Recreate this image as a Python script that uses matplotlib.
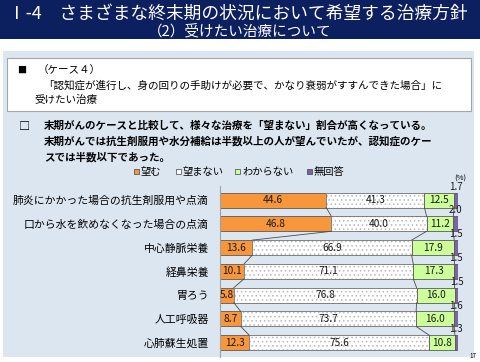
import matplotlib
matplotlib.use("Agg")
import matplotlib.pyplot as plt
from matplotlib.patches import Rectangle
import numpy as np

plt.rcParams['font.family'] = ['Noto Sans CJK JP', 'DejaVu Sans']
plt.rcParams['hatch.linewidth'] = 0.6

#%% data
categories = ['肺炎にかかった場合の抗生剤服用や点滴',
              '口から水を飲めなくなった場合の点滴',
              '中心静脈栄養',
              '経鼻栄養',
              '胃ろう',
              '人工呼吸器',
              '心肺蘇生処置']
series_names = ['望む', '望まない', 'わからない', '無回答']
nozomu = [44.6, 46.8, 13.6, 10.1, 5.8, 8.7, 12.3]
nozomanai = [41.3, 40.0, 66.9, 71.1, 76.8, 73.7, 75.6]
wakaranai = [12.5, 11.2, 17.9, 17.3, 16.0, 16.0, 10.8]
mukaitou = [1.7, 2.0, 1.5, 1.5, 1.5, 1.6, 1.3]

colors = ['#f7963a', '#ffffff', '#ccff99', '#7d62a6']
navy = '#0c1f5e'
panel = '#dce6f1'

W, H = 480, 362
fig = plt.figure(figsize=(4.8, 3.62), dpi=100)

def px(x, y):
    # pixel coords (from top-left) -> figure fraction
    return x / W, 1 - y / H

def rect(x0, y0, x1, y1, **kw):
    fx, fy = px(x0, y1)
    fig.patches.append(Rectangle((fx, fy), (x1 - x0) / W, (y1 - y0) / H,
                                 transform=fig.transFigure, **kw))

def txt(x, y, s, **kw):
    fx, fy = px(x, y)
    fig.text(fx, fy, s, **kw)

#%% header and panels
rect(0, 0, 480, 39, facecolor=navy, edgecolor='none')
txt(8, 14, 'Ⅰ-4　さまざまな終末期の状況において希望する治療方針', color='white',
    fontsize=12.8, va='center', ha='left')
txt(240, 31, '（2）受けたい治療について', color='white', fontsize=10.5,
    va='center', ha='center')
rect(3, 51, 474, 357, facecolor=panel, edgecolor='none')
rect(7, 58, 471, 111, facecolor='white', edgecolor='#a6a6a6', linewidth=0.8)

txt(17, 70, '■', fontsize=6.5, va='center', ha='left')
txt(38, 70, '（ケース４）', fontsize=7.6, va='center', ha='left')
txt(43, 85, '「認知症が進行し、身の回りの手助けが必要で、かなり衰弱がすすんできた場合」に',
    fontsize=7.6, va='center', ha='left')
txt(34, 100, '受けたい治療', fontsize=7.6, va='center', ha='left')

txt(19, 126, '□', fontsize=8, va='center', ha='left', fontweight='bold')
txt(44, 126, '末期がんのケースと比較して、様々な治療を「望まない」割合が高くなっている。',
    fontsize=7.6, va='center', ha='left', fontweight='bold')
txt(44, 141, '末期がんでは抗生剤服用や水分補給は半数以上の人が望んでいたが、認知症のケー',
    fontsize=7.6, va='center', ha='left', fontweight='bold')
txt(44, 157, 'スでは半数以下であった。',
    fontsize=7.6, va='center', ha='left', fontweight='bold')

# legend drawn by hand: small squares + text
leg_x = [134, 176, 235, 307]
for i, name in enumerate(series_names):
    rect(leg_x[i], 169, leg_x[i] + 5, 174, facecolor=colors[i],
         edgecolor='#404040', linewidth=0.5)
    txt(leg_x[i] + 7, 172, name, fontsize=7.4, va='center', ha='left')
txt(460, 179, '(%)', fontsize=5.5, va='center', ha='center')
txt(473, 356, '17', fontsize=4.5, va='center', ha='center')

#%% chart
l, b = px(220, 357)
r, t = px(458, 186)
ax = fig.add_axes([l, b, r - l, t - b])
ax.set_zorder(5)
ax.set_facecolor('none')

data = np.array([nozomu, nozomanai, wakaranai, mukaitou])
y = np.arange(len(categories))
h = 0.63
left = np.zeros(len(categories))
for k in range(4):
    if k == 1:
        ax.barh(y, data[k], h, left=left, color='white', edgecolor='#b8b8b8',
                hatch='....', linewidth=0)
        ax.barh(y, data[k], h, left=left, fill=False, edgecolor='#6e6e6e', linewidth=0.6)
    else:
        ax.barh(y, data[k], h, left=left, color=colors[k], edgecolor='#5a5a5a',
                linewidth=0.6)
    for i in range(len(categories)):
        v = data[k][i]
        if k < 3:
            ax.text(left[i] + v / 2, y[i], '{:.1f}'.format(v), ha='center',
                    va='center', fontsize=7.3, color='#1a1a1a')
        else:
            ax.text(left[i] + v / 2, y[i] - 0.56, '{:.1f}'.format(v), ha='center',
                    va='center', fontsize=7, color='#1a1a1a')
    left = left + data[k]

# series lines between bars
cum = np.cumsum(data, axis=0)
for k in range(3):
    for i in range(len(categories) - 1):
        ax.plot([cum[k][i], cum[k][i + 1]], [y[i] + h / 2, y[i + 1] - h / 2],
                color='#4a4a4a', linewidth=0.6)

ax.set_xlim(0, 100)
ax.set_ylim(6.6, -0.59)
ax.set_yticks(y)
ax.set_yticklabels(categories, fontsize=7.8)
ax.set_xticks([])
ax.tick_params(axis='y', length=0, pad=8)
for s in ['top', 'right', 'bottom']:
    ax.spines[s].set_visible(False)
ax.spines['left'].set_color('#a0a0a0')
ax.spines['left'].set_linewidth(0.8)

fig.savefig('out.png', dpi=100)
